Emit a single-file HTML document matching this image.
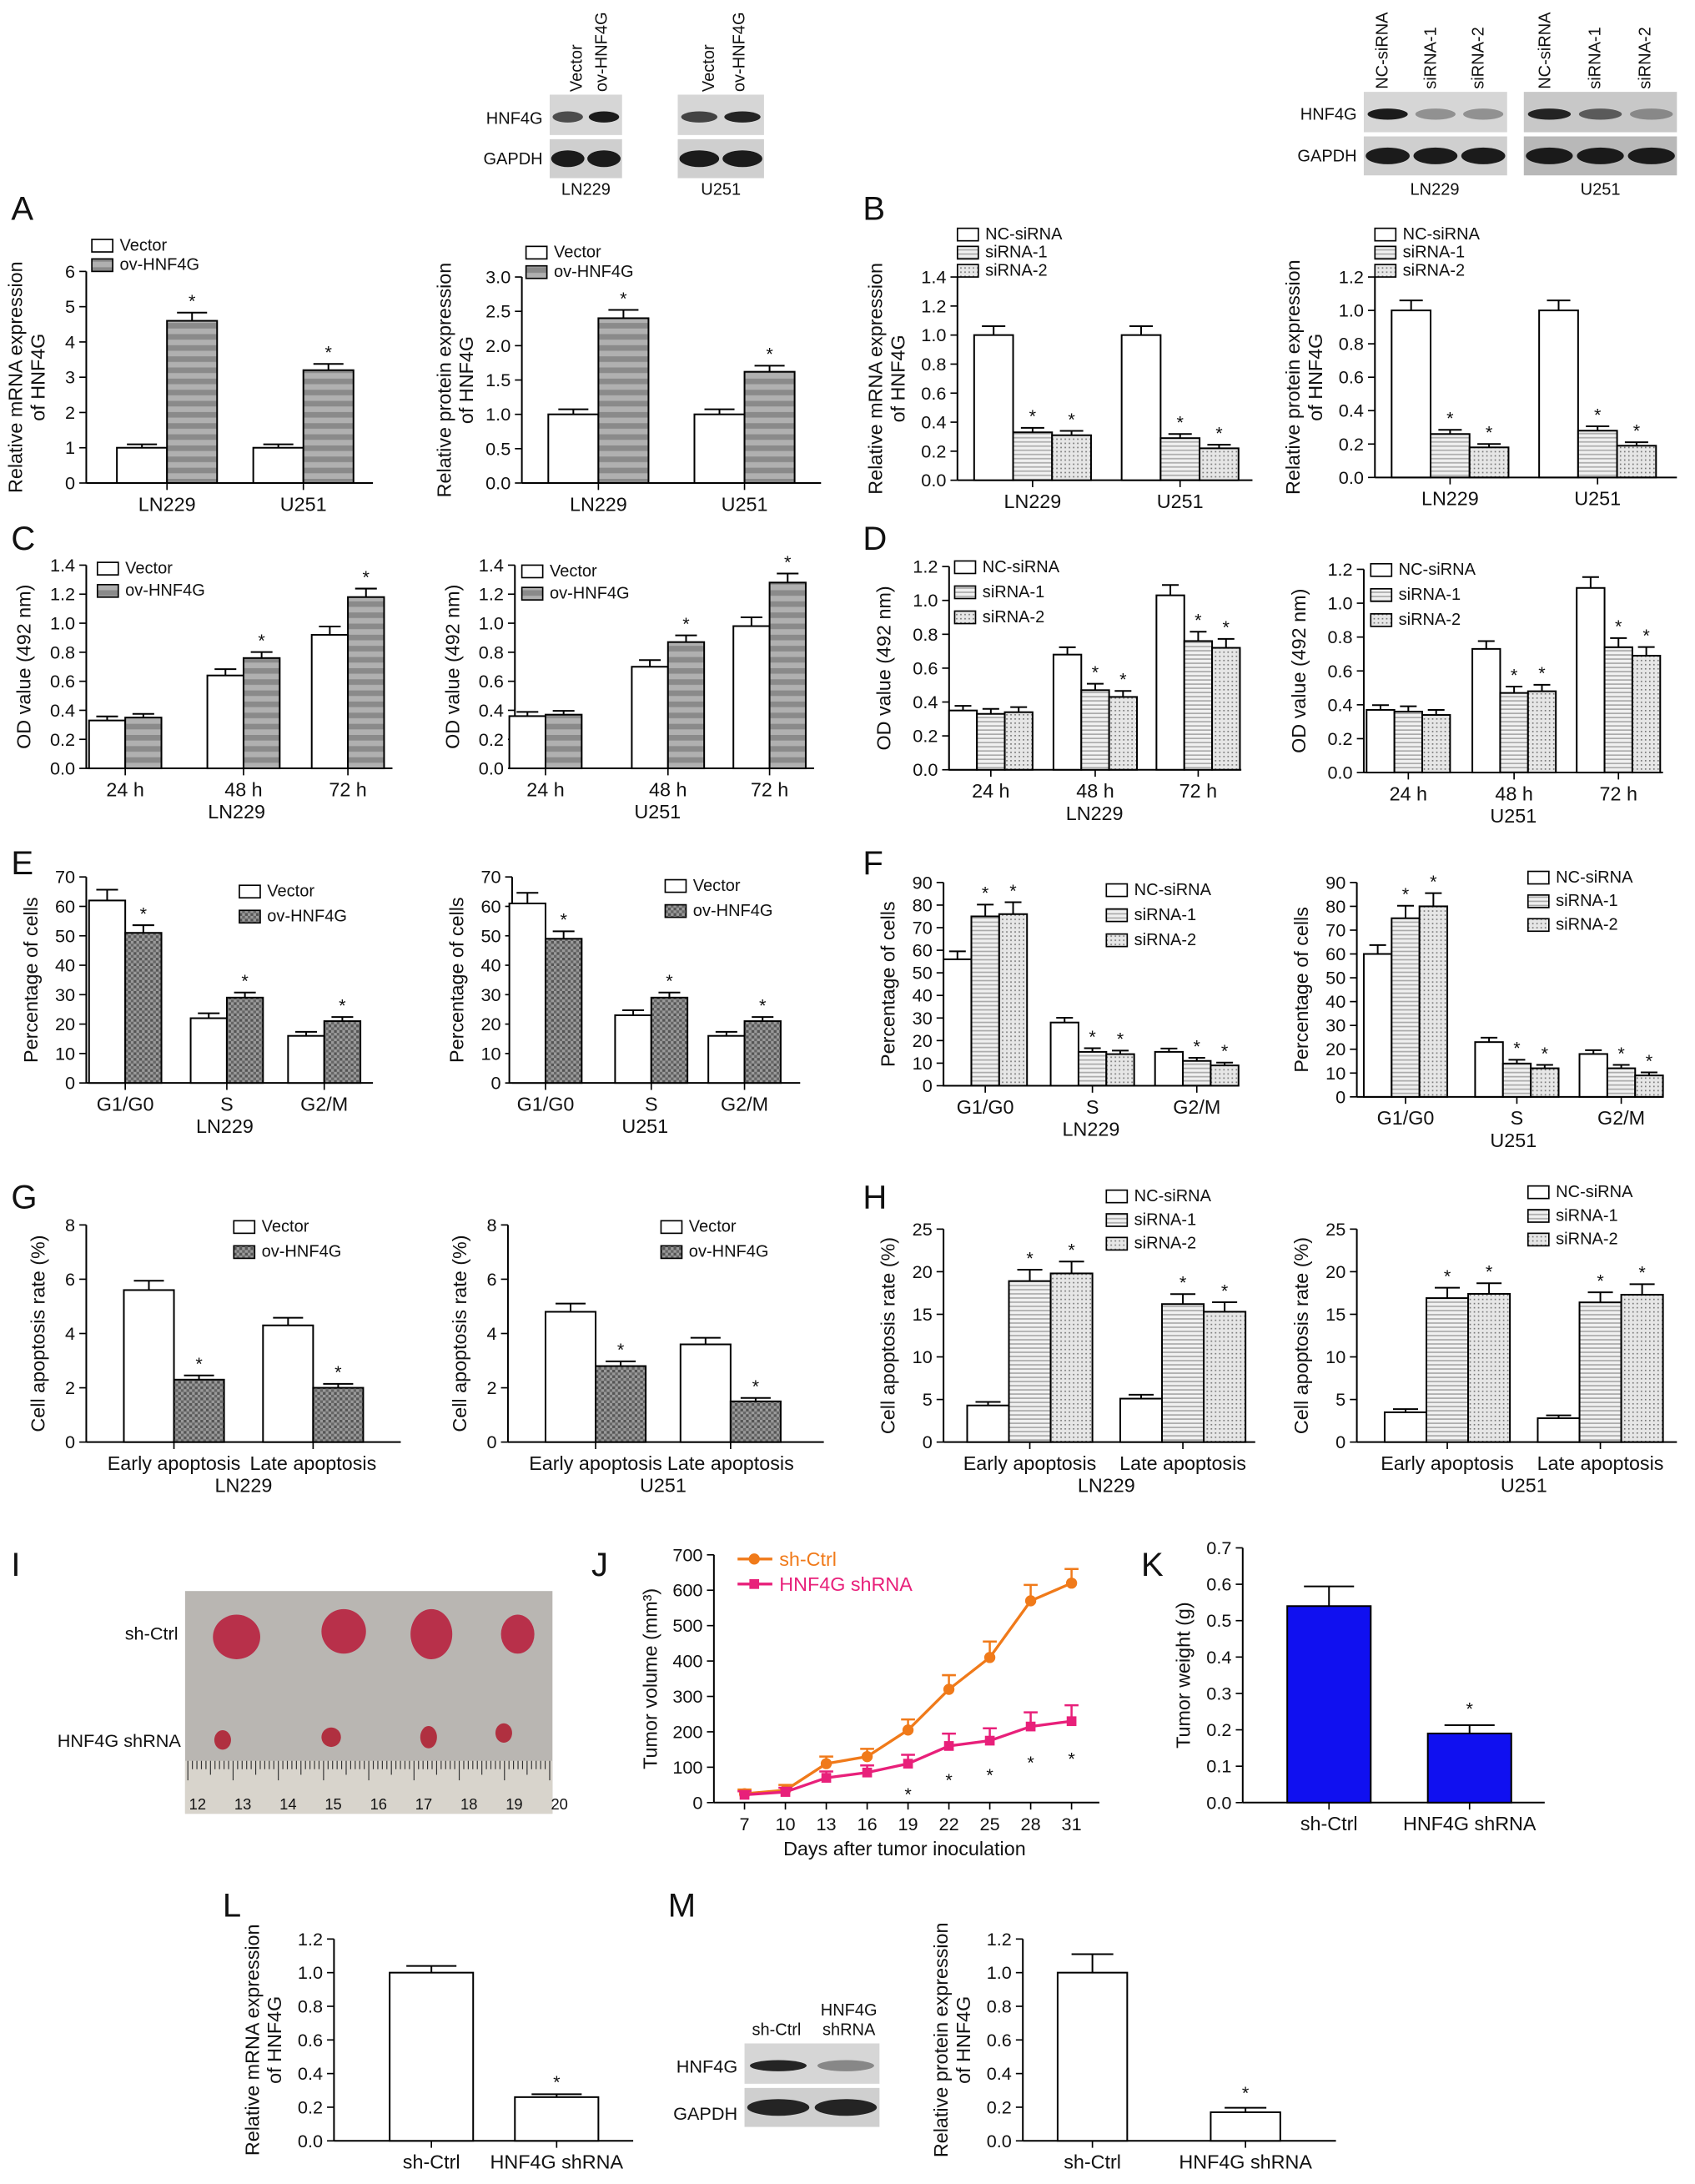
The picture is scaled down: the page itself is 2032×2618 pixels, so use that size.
<!DOCTYPE html>
<html><head><meta charset="utf-8">
<style>
html,body{margin:0;padding:0;background:#fff;}
svg{display:block;}
text{font-family:"Liberation Sans",Arial,sans-serif;fill:#111;}
</style></head>
<body>
<svg id="fig" xmlns="http://www.w3.org/2000/svg" width="2032" height="2618" viewBox="0 0 1218 1569" preserveAspectRatio="none">
<defs>
<pattern id="pStripe" width="8" height="8" patternUnits="userSpaceOnUse"><rect width="8" height="8" fill="#8a8a8a"/><rect y="4" width="8" height="4" fill="#b0b0b0"/></pattern>
<pattern id="pDark" width="4" height="4" patternUnits="userSpaceOnUse"><rect width="4" height="4" fill="#9a9a9a"/><rect width="2" height="2" fill="#555"/><rect x="2" y="2" width="2" height="2" fill="#666"/></pattern>
<pattern id="pLines" width="4" height="3" patternUnits="userSpaceOnUse"><rect width="4" height="3" fill="#f0f0f0"/><rect y="2" width="4" height="1" fill="#aaa"/></pattern>
<pattern id="pDots" width="3" height="3" patternUnits="userSpaceOnUse"><rect width="3" height="3" fill="#e6e6e6"/><rect width="1" height="1" fill="#777"/></pattern>
</defs>
</svg>
<script>
// ===== data =====
const cellLines=['LN229','U251'];
const hours=['24 h','48 h','72 h'];
const phases=['G1/G0','S','G2/M'];
const apop=['Early apoptosis','Late apoptosis'];
const A1_vector=[1.0,1.0]; const A1_ov=[4.6,3.2];
const A2_vector=[1.0,1.0]; const A2_ov=[2.4,1.62];
const B1_nc=[1.0,1.0]; const B1_si1=[0.33,0.29]; const B1_si2=[0.31,0.22];
const B2_nc=[1.0,1.0]; const B2_si1=[0.26,0.28]; const B2_si2=[0.18,0.19];
const C1_vector=[0.33,0.64,0.92]; const C1_ov=[0.35,0.76,1.18];
const C2_vector=[0.36,0.70,0.98]; const C2_ov=[0.37,0.87,1.28];
const D1_nc=[0.35,0.68,1.03]; const D1_si1=[0.33,0.47,0.76]; const D1_si2=[0.34,0.43,0.72];
const D2_nc=[0.37,0.73,1.09]; const D2_si1=[0.36,0.47,0.74]; const D2_si2=[0.34,0.48,0.69];
const E1_vector=[62,22,16]; const E1_ov=[51,29,21];
const E2_vector=[61,23,16]; const E2_ov=[49,29,21];
const F1_nc=[56,28,15]; const F1_si1=[75,15,11]; const F1_si2=[76,14,9];
const F2_nc=[60,23,18]; const F2_si1=[75,14,12]; const F2_si2=[80,12,9];
const G1_vector=[5.6,4.3]; const G1_ov=[2.3,2.0];
const G2_vector=[4.8,3.6]; const G2_ov=[2.8,1.5];
const H1_nc=[4.3,5.1]; const H1_si1=[18.9,16.2]; const H1_si2=[19.8,15.3];
const H2_nc=[3.5,2.8]; const H2_si1=[16.9,16.4]; const H2_si2=[17.4,17.3];
const J_days=[7,10,13,16,19,22,25,28,31];
const J_ctrl=[25,35,110,130,205,320,410,570,620];
const J_ctrlErr=[12,15,20,22,30,40,45,45,40];
const J_sh=[22,30,70,85,110,160,175,215,230];
const J_shErr=[10,12,18,20,25,35,35,40,45];
const K_cats=['sh-Ctrl','HNF4G shRNA']; const K_vals=[0.54,0.19]; const K_err=[0.06,0.03];
const L_vals=[1.0,0.26]; const M_vals=[1.0,0.17];

// ===== helpers =====
const NS='http://www.w3.org/2000/svg';
const svg=document.getElementById('fig');
function el(tag,attrs,parent,txt){const e=document.createElementNS(NS,tag);for(const k in attrs)e.setAttribute(k,attrs[k]);if(txt!==undefined)e.textContent=txt;(parent||svg).appendChild(e);return e;}
function group(name){const g=el('g',{});


return g;}
function txt(g,x,y,s,size,anchor,name,extra){const t=el('text',Object.assign({x:x,y:y,'font-size':size,'text-anchor':anchor||'middle'},extra||{}),g,s);


return t;}

function barChart(o){
  const g=group(o.name);
  const sy=v=>o.yb-(v/o.ymax)*(o.yb-o.yt);
  el('line',{x1:o.ax,y1:o.yb,x2:o.ax,y2:o.yt,stroke:'#000','stroke-width':1.2},g);
  el('line',{x1:o.ax,y1:o.yb,x2:o.ax2,y2:o.yb,stroke:'#000','stroke-width':1.2},g);
  for(let v=0;v<=o.ymax+1e-9;v+=o.step){
    const y=sy(v);
    el('line',{x1:o.ax-5,y1:y,x2:o.ax,y2:y,stroke:'#000','stroke-width':1},g);
    txt(g,o.ax-8,y+4.5,o.fmt(v),13,'end','y-tick-label');
  }
  const n=o.series.length;
  o.cats.forEach((c,i)=>{
    const cx=o.centers[i];
    el('line',{x1:cx,y1:o.yb,x2:cx,y2:o.yb+5,stroke:'#000'},g);
    txt(g,cx,o.yb+20,c,14,'middle','x-tick-label');
    o.series.forEach((s,j)=>{
      const v=s.vals[i];const x=cx-n*o.bw/2+j*o.bw;const y=sy(v);
      const r=el('rect',{x:x,y:y,width:o.bw,height:o.yb-y,fill:s.fill,stroke:'#000','stroke-width':1.2},g);
      
      
      const e=v*(s.err||0.05)+o.ymax*0.008;const ye=sy(v+e);const mx=x+o.bw/2;
      el('line',{x1:mx,y1:y,x2:mx,y2:ye,stroke:'#000','stroke-width':1.2},g);
      el('line',{x1:mx-o.bw*0.3,y1:ye,x2:mx+o.bw*0.3,y2:ye,stroke:'#000','stroke-width':1.2},g);
      if(s.star && !(o.noStar0 && i==0)) txt(g,mx,ye-4,'*',13,'middle','significance-star');
    });
  });
  if(o.xtitle) txt(g,(o.centers[0]+o.centers[o.centers.length-1])/2,o.yb+36,o.xtitle,14,'middle','x-axis-title');
  const tx=o.ax-(o.tOff||48),ty=(o.yb+o.yt)/2;
  o.ytitle.forEach((l,k)=>{txt(g,tx+k*16-(o.ytitle.length-1)*16,ty,l,14,'middle','y-axis-title',{transform:`rotate(-90 ${tx+k*16-(o.ytitle.length-1)*16} ${ty})`});});
  if(o.legend){o.series.forEach((s,j)=>{
    const lx=o.legend[0],ly=o.legend[1]+j*(o.legend[2]||14);
    const r=el('rect',{x:lx,y:ly-8,width:15,height:9,fill:s.fill,stroke:'#000'},g);
    
    
    txt(g,lx+20,ly,s.label,12,'start','legend-entry');
  });}
  return g;
}
const W='#fff';
const f1=v=>v.toFixed(1), f0=v=>String(Math.round(v));
function two(a,b,fillB,labB){return [{key:'vector',vals:a,fill:W,label:'Vector',err:0.05},{key:'ov',vals:b,fill:fillB,label:labB||'ov-HNF4G',star:true,err:0.04}];}
function three(a,b,c){return [{key:'nc',vals:a,fill:W,label:'NC-siRNA',err:0.05},{key:'si1',vals:b,fill:'url(#pLines)',label:'siRNA-1',star:true,err:0.06},{key:'si2',vals:c,fill:'url(#pDots)',label:'siRNA-2',star:true,err:0.06}];}

// Panel letters
[['A',8,158],['B',620,158],['C',8,395],['D',620,395],['E',8,628],['F',620,628],['G',8,868],['H',620,868],['I',8,1132],['J',425,1132],['K',820,1132],['L',160,1377],['M',480,1377]].forEach(p=>{
  const t=el('text',{x:p[1],y:p[2],'font-size':24},svg,p[0]);
  
  
});

barChart({name:'chart-a-mrna',ax:62,ax2:268,yb:347,yt:195,ymax:6,step:1,fmt:f0,centers:[120,218],bw:36,cats:cellLines,series:two(A1_vector,A1_ov,'url(#pStripe)'),ytitle:['Relative mRNA expression','of HNF4G'],tOff:30,legend:[66,180]});
barChart({name:'chart-a-protein',ax:375,ax2:590,yb:347,yt:199,ymax:3,step:0.5,fmt:f1,centers:[430,535],bw:36,cats:cellLines,series:two(A2_vector,A2_ov,'url(#pStripe)'),ytitle:['Relative protein expression','of HNF4G'],tOff:35,legend:[378,185]});
barChart({name:'chart-b-mrna',ax:688,ax2:900,yb:345,yt:199,ymax:1.4,step:0.2,fmt:f1,centers:[742,848],bw:28,cats:cellLines,series:three(B1_nc,B1_si1,B1_si2),ytitle:['Relative mRNA expression','of HNF4G'],tOff:38,legend:[688,172,13]});
barChart({name:'chart-b-protein',ax:988,ax2:1205,yb:343,yt:199,ymax:1.2,step:0.2,fmt:f1,centers:[1042,1148],bw:28,cats:cellLines,series:three(B2_nc,B2_si1,B2_si2),ytitle:['Relative protein expression','of HNF4G'],tOff:38,legend:[988,172,13]});

barChart({name:'chart-c-ln229',ax:62,ax2:282,yb:552,yt:406,ymax:1.4,step:0.2,fmt:f1,centers:[90,175,250],bw:26,cats:hours,noStar0:true,series:two(C1_vector,C1_ov,'url(#pStripe)'),ytitle:['OD value (492 nm)'],xtitle:'LN229',tOff:40,legend:[70,412,16]});
barChart({name:'chart-c-u251',ax:370,ax2:585,yb:552,yt:406,ymax:1.4,step:0.2,fmt:f1,centers:[392,480,553],bw:26,cats:hours,noStar0:true,series:two(C2_vector,C2_ov,'url(#pStripe)'),ytitle:['OD value (492 nm)'],xtitle:'U251',tOff:40,legend:[375,414,16]});
barChart({name:'chart-d-ln229',ax:682,ax2:892,yb:553,yt:407,ymax:1.2,step:0.2,fmt:f1,centers:[712,787,861],bw:20,cats:hours,noStar0:true,series:three(D1_nc,D1_si1,D1_si2),ytitle:['OD value (492 nm)'],xtitle:'LN229',tOff:42,legend:[686,411,18]});
barChart({name:'chart-d-u251',ax:980,ax2:1195,yb:555,yt:409,ymax:1.2,step:0.2,fmt:f1,centers:[1012,1088,1163],bw:20,cats:hours,noStar0:true,series:three(D2_nc,D2_si1,D2_si2),ytitle:['OD value (492 nm)'],xtitle:'U251',tOff:42,legend:[985,413,18]});

barChart({name:'chart-e-ln229',ax:62,ax2:268,yb:778,yt:630,ymax:70,step:10,fmt:f0,centers:[90,163,233],bw:26,cats:phases,series:two(E1_vector,E1_ov,'url(#pDark)'),ytitle:['Percentage of cells'],xtitle:'LN229',tOff:35,legend:[172,644,18]});
barChart({name:'chart-e-u251',ax:368,ax2:575,yb:778,yt:630,ymax:70,step:10,fmt:f0,centers:[392,468,535],bw:26,cats:phases,series:two(E2_vector,E2_ov,'url(#pDark)'),ytitle:['Percentage of cells'],xtitle:'U251',tOff:35,legend:[478,640,18]});
barChart({name:'chart-f-ln229',ax:678,ax2:885,yb:780,yt:634,ymax:90,step:10,fmt:f0,centers:[708,785,860],bw:20,cats:phases,series:three(F1_nc,F1_si1,F1_si2),ytitle:['Percentage of cells'],xtitle:'LN229',tOff:35,legend:[795,643,18]});
barChart({name:'chart-f-u251',ax:975,ax2:1195,yb:788,yt:634,ymax:90,step:10,fmt:f0,centers:[1010,1090,1165],bw:20,cats:phases,series:three(F2_nc,F2_si1,F2_si2),ytitle:['Percentage of cells'],xtitle:'U251',tOff:35,legend:[1098,634,17]});

barChart({name:'chart-g-ln229',ax:62,ax2:288,yb:1036,yt:880,ymax:8,step:2,fmt:f0,centers:[125,225],bw:36,cats:apop,series:two(G1_vector,G1_ov,'url(#pDark)'),ytitle:['Cell apoptosis rate (%)'],xtitle:'LN229',tOff:30,legend:[168,885,18]});
barChart({name:'chart-g-u251',ax:365,ax2:592,yb:1036,yt:880,ymax:8,step:2,fmt:f0,centers:[428,525],bw:36,cats:apop,series:two(G2_vector,G2_ov,'url(#pDark)'),ytitle:['Cell apoptosis rate (%)'],xtitle:'U251',tOff:30,legend:[475,885,18]});
barChart({name:'chart-h-ln229',ax:678,ax2:902,yb:1036,yt:883,ymax:25,step:5,fmt:f0,centers:[740,850],bw:30,cats:apop,series:three(H1_nc,H1_si1,H1_si2),ytitle:['Cell apoptosis rate (%)'],xtitle:'LN229',tOff:35,legend:[795,863,17]});
barChart({name:'chart-h-u251',ax:975,ax2:1205,yb:1036,yt:883,ymax:25,step:5,fmt:f0,centers:[1040,1150],bw:30,cats:apop,series:three(H2_nc,H2_si1,H2_si2),ytitle:['Cell apoptosis rate (%)'],xtitle:'U251',tOff:35,legend:[1098,860,17]});

// K
barChart({name:'chart-k-tumor-weight',ax:893,ax2:1110,yb:1295,yt:1112,ymax:0.7,step:0.1,fmt:f1,centers:[955,1056],bw:60,cats:K_cats,series:[{key:'weight',vals:K_vals,fill:'#1010f0',err:0.09}],ytitle:['Tumor weight (g)'],tOff:38});
(function(){const g=group('k-star');txt(g,1056,1232,'*',13,'middle','significance-star');})();
// L, M
barChart({name:'chart-l-mrna',ax:240,ax2:455,yb:1538,yt:1393,ymax:1.2,step:0.2,fmt:f1,centers:[310,400],bw:60,cats:K_cats,series:[{key:'l',vals:L_vals,fill:W,err:0.03}],ytitle:['Relative mRNA expression','of HNF4G'],tOff:38});
barChart({name:'chart-m-protein',ax:735,ax2:960,yb:1538,yt:1393,ymax:1.2,step:0.2,fmt:f1,centers:[785,895],bw:50,cats:K_cats,series:[{key:'m',vals:M_vals,fill:W,err:0.1}],ytitle:['Relative protein expression','of HNF4G'],tOff:38});
(function(){const g=group('lm-stars');txt(g,400,1500,'*',13,'middle','significance-star');txt(g,895,1508,'*',13,'middle','significance-star');})();

// J line chart
(function(){
  const g=group('chart-j-tumor-volume');
  const ax=513,ax2=790,yb=1295,yt=1117,ymax=700;
  const sx=d=>535+(d-7)/(31-7)*(770-535);const sy=v=>yb-v/ymax*(yb-yt);
  el('line',{x1:ax,y1:yb,x2:ax,y2:yt,stroke:'#000','stroke-width':1.2},g);
  el('line',{x1:ax,y1:yb,x2:ax2,y2:yb,stroke:'#000','stroke-width':1.2},g);
  for(let v=0;v<=ymax;v+=100){el('line',{x1:ax-5,y1:sy(v),x2:ax,y2:sy(v),stroke:'#000'},g);txt(g,ax-8,sy(v)+4.5,String(v),13,'end','y-tick-label');}
  J_days.forEach(d=>{el('line',{x1:sx(d),y1:yb,x2:sx(d),y2:yb+5,stroke:'#000'},g);txt(g,sx(d),yb+20,String(d),13,'middle','x-tick-label');});
  txt(g,650,yb+38,'Days after tumor inoculation',14,'middle','x-axis-title');
  txt(g,472,1206,'Tumor volume (mm³)',14,'middle','y-axis-title',{transform:'rotate(-90 472 1206)'});
  [[J_ctrl,J_ctrlErr,'#f07a1a','sh-Ctrl'],[J_sh,J_shErr,'#e8207a','HNF4G shRNA']].forEach((s,k)=>{
    const pts=J_days.map((d,i)=>sx(d)+','+sy(s[0][i])).join(' ');
    const pl=el('polyline',{points:pts,fill:'none',stroke:s[2],'stroke-width':2},g);
    
    
    J_days.forEach((d,i)=>{
      const x=sx(d),y=sy(s[0][i]),ye=sy(s[0][i]+s[1][i]);
      el('line',{x1:x,y1:y,x2:x,y2:ye,stroke:s[2],'stroke-width':1.5},g);
      el('line',{x1:x-5,y1:ye,x2:x+5,y2:ye,stroke:s[2],'stroke-width':1.5},g);
      if(k==0) el('circle',{cx:x,cy:y,r:4,fill:s[2]},g); else el('rect',{x:x-3.5,y:y-3.5,width:7,height:7,fill:s[2]},g);
      if(k==1&&d>=19) txt(g,x,sy(s[0][i]-s[1][i])+20,'*',13,'middle','significance-star');
    });
    const ly=1120+k*18;
    el('line',{x1:530,y1:ly,x2:555,y2:ly,stroke:s[2],'stroke-width':2},g);
    if(k==0) el('circle',{cx:542,cy:ly,r:4,fill:s[2]},g); else el('rect',{x:538.5,y:ly-3.5,width:7,height:7,fill:s[2]},g);
    txt(g,560,ly+5,s[3],14,'start','legend-entry',{style:'fill:'+s[2]});
  });
})();

// Western blots
function blot(name,x,y,w,lanes,intens,gIntens,dark){
  const g=group(name);
  el('rect',{x:x,y:y,width:w,height:29,fill:dark?'#c8c8c8':'#d6d6d6'},g);
  el('rect',{x:x,y:y+32,width:w,height:28,fill:dark?'#b8b8b8':'#cfcfcf'},g);
  const lw=w/lanes;
  for(let i=0;i<lanes;i++){
    el('ellipse',{cx:x+lw*(i+0.5),cy:y+16,rx:lw*0.42,ry:4,fill:'#111','fill-opacity':intens[i]},g);
    el('ellipse',{cx:x+lw*(i+0.5),cy:y+46,rx:lw*0.46,ry:6,fill:'#111','fill-opacity':gIntens},g);
  }
  return g;
}
function rotLabel(g,x,y,s){txt(g,x,y,s,12,'start','lane-label',{transform:`rotate(-90 ${x} ${y})`});}
(function(){
  const g=group('blot-overexpression');
  blot('blot-ln229-ov',395,68,52,2,[0.7,0.95],0.95);
  blot('blot-u251-ov',487,68,62,2,[0.75,0.9],0.95);
  txt(g,390,89,'HNF4G',12,'end','blot-row-label');txt(g,390,118,'GAPDH',12,'end','blot-row-label');
  rotLabel(g,418,66,'Vector');rotLabel(g,436,66,'ov-HNF4G');rotLabel(g,513,66,'Vector');rotLabel(g,535,66,'ov-HNF4G');
  txt(g,421,140,'LN229',12,'middle','cell-line-label');txt(g,518,140,'U251',12,'middle','cell-line-label');
  const g2=group('blot-knockdown');
  blot('blot-ln229-si',980,66,103,3,[0.95,0.35,0.35],0.95);
  blot('blot-u251-si',1095,66,110,3,[0.9,0.6,0.35],0.95,true);
  txt(g2,975,86,'HNF4G',12,'end','blot-row-label');txt(g2,975,116,'GAPDH',12,'end','blot-row-label');
  [[997,'NC-siRNA'],[1032,'siRNA-1'],[1066,'siRNA-2'],[1114,'NC-siRNA'],[1150,'siRNA-1'],[1186,'siRNA-2']].forEach(l=>rotLabel(g2,l[0],64,l[1]));
  txt(g2,1031,140,'LN229',12,'middle','cell-line-label');txt(g2,1150,140,'U251',12,'middle','cell-line-label');
  const g3=group('blot-m');
  blot('blot-m-shrna',535,1468,97,2,[0.9,0.4],0.9);
  txt(g3,530,1489,'HNF4G',13,'end','blot-row-label');txt(g3,530,1523,'GAPDH',13,'end','blot-row-label');
  txt(g3,558,1462,'sh-Ctrl',12,'middle','lane-label');txt(g3,610,1448,'HNF4G',12,'middle','lane-label');txt(g3,610,1462,'shRNA',12,'middle','lane-label');
})();

// Panel I photo
(function(){
  const g=group('tumor-photo');
  el('rect',{x:133,y:1143,width:264,height:160,fill:'#b9b6b2'},g);
  el('rect',{x:133,y:1265,width:264,height:38,fill:'#d8d4cc'},g);
  for(let i=0;i<=80;i++){const x=135+i*3.25;el('line',{x1:x,y1:1265,x2:x,y2:1265+(i%10==0?14:(i%5==0?10:6)),stroke:'#333','stroke-width':0.7},g);}
  [12,13,14,15,16,17,18,19,20].forEach((n,i)=>txt(g,142+i*32.5,1300,String(n),11,'middle','ruler-number'));
  [[170,1176,17,16],[247,1172,16,16],[310,1174,15,18],[372,1174,12,14]].forEach(b=>el('ellipse',{cx:b[0],cy:b[1],rx:b[2],ry:b[3],fill:'#b8304a'},g));
  [[160,1250,6,7],[238,1248,7,7],[308,1248,6,8],[362,1245,6,7]].forEach(b=>el('ellipse',{cx:b[0],cy:b[1],rx:b[2],ry:b[3],fill:'#b03040'},g));
  txt(g,128,1178,'sh-Ctrl',13,'end','group-label');txt(g,130,1255,'HNF4G shRNA',13,'end','group-label');
})();
</script>
</body></html>
